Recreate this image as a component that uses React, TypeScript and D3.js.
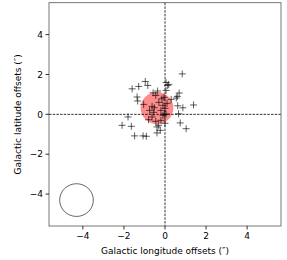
import React from "react";
import * as d3 from "d3";

const xTicks = [-4, -2, 0, 2, 4];
const yTicks = [-4, -2, 0, 2, 4];
const xLabel = "Galactic longitude offsets (″)";
const yLabel = "Galactic latitude offsets (″)";

// offsets [l, b]
const offsetsL = [
  0.84, -1.6, -1.28, -0.96, -0.84, 0.05, 0.13, 0.18, 0.05, 0.69, 0.55, 0.6,
  -1.36, -1.33, -0.58, -0.36, -0.15, -0.45, -1.04, 1.39, 0.87, 0.62, -0.63,
  -0.52, -0.75, -0.55, -0.03, -0.1, 0.05, 0.66, -0.3, -0.1, 0.0, -0.2, 0.1,
  -0.05, 0.3, -1.8, -2.09, -1.64, -0.39, 0.74, 1.03, -1.48, -1.07, -0.91,
  -0.39, -0.23, -0.31, -0.8, -0.63, -0.2, 0.0, -0.45,
];
const offsetsB = [
  2.03, 1.28, 1.4, 1.65, 1.45, 1.6, 1.45, 1.5, 1.2, 1.07, 0.82, 0.9,
  0.87, 0.67, 1.08, 1.17, 0.78, 0.95, 0.5, 0.47, 0.33, 0.43, 0.4,
  0.33, 0.2, 0.1, 0.0, -0.05, 0.02, 0.03, 0.6, 0.45, 0.3, 0.2, 0.55,
  0.85, 0.75, -0.13, -0.55, -0.6, -0.63, -0.43, -0.72, -1.08, -1.08, -1.1,
  -0.93, -0.8, -0.55, -0.27, -0.13, -0.3, -0.45, -0.35,
];
const centroid = [-0.39, 0.32, 0.8]; // l, b, radius
const beam = [-4.31, -4.3, 0.82]; // l, b, radius
const domainX = [-5.65, 5.65];
const domainY = [-5.6, 5.6];

export default function App() {
  const left = 49, right = 281, top = 2.7, bottom = 226;
  const x = d3.scaleLinear().domain(domainX).range([left, right]);
  const y = d3.scaleLinear().domain(domainY).range([bottom, top]);
  const font = "DejaVu Sans, sans-serif";
  const fs = 9;
  const fmt = (v: number) => (v < 0 ? "\u2212" + Math.abs(v) : String(v));
  const arm = 3.5;
  return (
    <svg width={287} height={260} style={{ position: "absolute", left: 0, top: 0 }}>
      <rect x={0} y={0} width={287} height={260} fill="white" />
      <ellipse
        cx={x(centroid[0])}
        cy={y(centroid[1])}
        rx={x(centroid[2]) - x(0)}
        ry={y(0) - y(centroid[2])}
        fill="red"
        fillOpacity={0.45}
      />
      <line x1={x(0)} x2={x(0)} y1={top} y2={bottom} stroke="#000" strokeWidth={0.8} strokeDasharray="2.5,1.2" />
      <line x1={left} x2={right} y1={y(0)} y2={y(0)} stroke="#000" strokeWidth={0.8} strokeDasharray="2.5,1.2" />
      {offsetsL.map((l, i) => {
        const px = x(l), py = y(offsetsB[i]);
        return (
          <g key={i} stroke="#000" strokeOpacity={0.7} strokeWidth={0.9}>
            <line x1={px - arm} x2={px + arm} y1={py} y2={py} />
            <line x1={px} x2={px} y1={py - arm} y2={py + arm} />
          </g>
        );
      })}
      <ellipse
        cx={x(beam[0])}
        cy={y(beam[1])}
        rx={x(beam[2]) - x(0)}
        ry={y(0) - y(beam[2])}
        fill="none"
        stroke="#000"
        strokeWidth={0.6}
      />
      <rect x={left} y={top} width={right - left} height={bottom - top} fill="none" stroke="#555" strokeWidth={0.8} />
      {xTicks.map((t) => (
        <g key={"x" + t}>
          <line x1={x(t)} x2={x(t)} y1={bottom} y2={bottom + 3.5} stroke="#000" strokeWidth={0.8} />
          <text x={x(t)} y={bottom + 13} textAnchor="middle" fontSize={fs} fontFamily={font} fill="#000">
            {fmt(t)}
          </text>
        </g>
      ))}
      {yTicks.map((t) => (
        <g key={"y" + t}>
          <line x1={left - 3.5} x2={left} y1={y(t)} y2={y(t)} stroke="#000" strokeWidth={0.8} />
          <text x={left - 6} y={y(t) + 3.2} textAnchor="end" fontSize={fs} fontFamily={font} fill="#000">
            {fmt(t)}
          </text>
        </g>
      ))}
      <text x={(left + right) / 2} y={254} textAnchor="middle" fontSize={fs} fontFamily={font} fill="#000">
        {xLabel}
      </text>
      <text
        transform={`translate(21, ${(top + bottom) / 2}) rotate(-90)`}
        textAnchor="middle"
        fontSize={fs}
        fontFamily={font}
        fill="#000"
      >
        {yLabel}
      </text>
    </svg>
  );
}
